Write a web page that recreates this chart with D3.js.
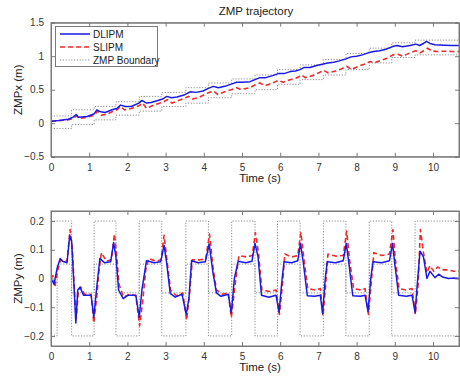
<!DOCTYPE html>
<html><head><meta charset="utf-8">
<script src="https://cdn.jsdelivr.net/npm/d3@7/dist/d3.min.js"></script>
<style>
html,body{margin:0;padding:0;background:#fff;}
svg{display:block;font-family:"Liberation Sans",Arial,sans-serif;}
</style></head>
<body>
<svg id="chart" width="460" height="379"></svg>
<script>
// ---------- DATA ----------
const xTicks = [0,1,2,3,4,5,6,7,8,9,10];
const topYTicks = [-0.5,0,0.5,1,1.5];
const botYTicks = [-0.2,-0.1,0,0.1,0.2];
const seriesNames = ["DLIPM","SLIPM","ZMP Boundary"];

// footstep phase switch times (s)
const phaseTimes = [0,0.16,0.54,1.13,1.70,2.31,2.90,3.53,4.12,4.73,5.34,5.93,6.52,7.13,7.72,8.33,8.92,9.53,10.7];
// ZMP x boundary (upper / lower) per phase
const boundXUpper = [0.11,0.11,0.20,0.25,0.32,0.40,0.46,0.53,0.60,0.66,0.72,0.80,0.87,0.95,1.04,1.12,1.20,1.24,1.24];
const boundXLower = [-0.08,-0.08,-0.02,0.05,0.12,0.18,0.25,0.30,0.38,0.44,0.50,0.58,0.65,0.72,0.80,0.90,0.98,1.02,1.02];
// ZMP y boundary (upper / lower) per phase
const boundYUpper = [0.2,0.2,-0.05,0.2,-0.05,0.2,-0.05,0.2,-0.05,0.2,-0.05,0.2,-0.05,0.2,-0.05,0.2,-0.05,0.2,0.2];
const boundYLower = [-0.2,0.05,-0.2,0.05,-0.2,0.05,-0.2,0.05,-0.2,0.05,-0.2,0.05,-0.2,0.05,-0.2,0.05,-0.2,-0.2,-0.2];

// DLIPM ZMPx
const dlipmXt = [0,0.2,0.45,0.58,0.66,0.72,0.95,1.13,1.2,1.3,1.42,1.6,1.72,1.82,1.95,2.1,2.3,2.38,2.5,2.62,2.8,2.92,3.03,3.15,3.3,3.48,3.58,3.66,3.8,3.98,4.12,4.25,4.38,4.55,4.7,4.86,5.0,5.21,5.34,5.47,5.62,5.8,5.95,6.1,6.26,6.4,6.52,6.62,6.78,6.95,7.1,7.25,7.4,7.55,7.72,7.85,8.0,8.15,8.3,8.45,8.6,8.75,8.92,9.05,9.2,9.4,9.55,9.65,9.75,9.83,9.92,10.05,10.3,10.5,10.7];
const dlipmXv = [0.03,0.04,0.06,0.09,0.13,0.09,0.1,0.14,0.2,0.17,0.16,0.2,0.22,0.27,0.25,0.25,0.3,0.34,0.3,0.31,0.34,0.36,0.4,0.38,0.39,0.42,0.45,0.47,0.46,0.48,0.52,0.55,0.53,0.55,0.58,0.61,0.61,0.62,0.65,0.68,0.68,0.71,0.74,0.74,0.77,0.78,0.8,0.83,0.83,0.86,0.88,0.9,0.91,0.93,0.96,0.99,1.0,1.02,1.05,1.07,1.08,1.1,1.14,1.16,1.14,1.16,1.18,1.16,1.19,1.22,1.19,1.17,1.165,1.16,1.16];
// SLIPM ZMPx
const slipmXt = [0,0.2,0.45,0.58,0.66,0.75,0.95,1.13,1.22,1.32,1.45,1.6,1.72,1.82,1.92,2.1,2.3,2.4,2.5,2.65,2.8,2.95,3.05,3.17,3.3,3.48,3.6,3.7,3.85,4.0,4.14,4.26,4.36,4.55,4.72,4.86,4.97,5.2,5.34,5.47,5.6,5.8,5.95,6.08,6.26,6.45,6.56,6.66,6.85,7.0,7.14,7.25,7.45,7.6,7.74,7.86,8.05,8.2,8.35,8.46,8.65,8.8,8.95,9.08,9.2,9.4,9.55,9.66,9.78,9.86,9.96,10.1,10.3,10.5,10.7];
const slipmXv = [0.03,0.035,0.05,0.07,0.11,0.07,0.09,0.12,0.18,0.12,0.13,0.17,0.2,0.25,0.2,0.22,0.26,0.3,0.22,0.26,0.29,0.32,0.35,0.3,0.33,0.37,0.4,0.36,0.38,0.42,0.46,0.48,0.43,0.47,0.5,0.53,0.5,0.53,0.57,0.6,0.56,0.6,0.64,0.61,0.65,0.68,0.72,0.68,0.71,0.75,0.79,0.75,0.78,0.81,0.85,0.8,0.85,0.88,0.92,0.9,0.94,0.97,1.02,1.03,1.0,1.05,1.08,1.05,1.09,1.12,1.08,1.07,1.075,1.07,1.07];

// DLIPM ZMPy
const dlipmYt = [0,0.08,0.16,0.24,0.3,0.42,0.49,0.54,0.6,0.65,0.7,0.76,0.85,1.05,1.12,1.19,1.28,1.4,1.56,1.64,1.7,1.77,1.89,2.02,2.22,2.31,2.38,2.5,2.7,2.87,2.96,3.03,3.12,3.25,3.43,3.54,3.61,3.68,3.85,4.04,4.14,4.24,4.33,4.45,4.64,4.72,4.8,4.9,5.1,5.26,5.34,5.42,5.51,5.7,5.89,5.97,6.05,6.1,6.3,6.46,6.53,6.6,6.71,6.9,7.05,7.11,7.18,7.23,7.45,7.65,7.73,7.8,7.9,8.1,8.22,8.3,8.37,8.43,8.65,8.86,8.94,9.0,9.1,9.3,9.45,9.53,9.6,9.66,9.75,9.84,9.92,10.05,10.15,10.25,10.4,10.55,10.7];
const dlipmYv = [0,-0.02,0.035,0.07,0.06,0.055,0.15,0.13,-0.02,-0.155,-0.04,-0.03,-0.058,-0.058,-0.135,-0.04,0.07,0.055,0.058,0.125,0.075,-0.04,-0.07,-0.058,-0.058,-0.135,-0.04,0.062,0.055,0.058,0.115,0.052,-0.052,-0.065,-0.055,-0.125,-0.07,0.062,0.055,0.058,0.12,0.02,-0.05,-0.062,-0.055,-0.12,0,0.06,0.055,0.06,0.122,0.075,-0.058,-0.065,-0.058,-0.118,0,0.058,0.055,0.062,0.122,0.06,-0.06,-0.062,-0.058,-0.122,0,0.058,0.055,0.062,0.122,0.05,-0.06,-0.062,-0.058,-0.115,0,0.058,0.055,0.062,0.122,0.05,-0.058,-0.062,-0.058,-0.118,0,0.095,0.075,0,0.025,0.003,0.015,0.005,0,0.002,0];
// SLIPM ZMPy
const slipmYt = [0,0.05,0.1,0.18,0.25,0.32,0.42,0.5,0.56,0.62,0.66,0.72,0.78,0.88,1.05,1.12,1.2,1.25,1.32,1.45,1.58,1.66,1.72,1.78,1.9,2.05,2.22,2.32,2.4,2.48,2.56,2.75,2.88,2.96,3.03,3.13,3.28,3.45,3.55,3.63,3.7,3.9,4.05,4.15,4.24,4.33,4.5,4.64,4.72,4.82,4.92,5.12,5.27,5.35,5.43,5.52,5.72,5.89,5.98,6.06,6.12,6.3,6.46,6.54,6.61,6.72,6.92,7.05,7.12,7.19,7.25,7.45,7.65,7.74,7.81,7.92,8.12,8.22,8.31,8.38,8.45,8.65,8.86,8.95,9.01,9.11,9.3,9.45,9.54,9.61,9.67,9.75,9.84,9.92,10.02,10.12,10.25,10.4,10.55,10.7];
const slipmYv = [0,0.01,-0.03,0.03,0.065,0.062,0.06,0.17,0.1,-0.06,-0.14,-0.04,-0.03,-0.055,-0.055,-0.155,-0.06,0.02,0.09,0.06,0.065,0.155,0.08,-0.02,-0.065,-0.055,-0.06,-0.165,-0.08,0.03,0.07,0.06,0.065,0.15,0.07,-0.04,-0.06,-0.05,-0.145,-0.05,0.065,0.065,0.068,0.155,0.04,-0.04,-0.055,-0.05,-0.135,-0.02,0.08,0.075,0.08,0.16,0.09,-0.04,-0.045,-0.04,-0.125,-0.02,0.085,0.075,0.08,0.16,0.08,-0.035,-0.04,-0.035,-0.13,-0.02,0.085,0.078,0.08,0.165,0.07,-0.035,-0.04,-0.035,-0.125,-0.02,0.09,0.08,0.085,0.17,0.07,-0.035,-0.04,-0.035,-0.125,-0.02,0.17,0.09,0.02,0.045,0.025,0.04,0.03,0.03,0.025,0.025];

// ---------- STYLE / LAYOUT ----------
const W = 460, H = 379;
const xLeft = 51, xRight = 459;
const topPanel = {top: 22.7, bottom: 156.7, yDomain: [-0.5, 1.5]};
const botPanel = {top: 211, bottom: 346, yDomain: [-0.235, 0.235]};
const COL_BLUE = "#1a1ae6", COL_RED = "#ee2a2a", COL_GRAY = "#8c8c8c", COL_AXIS = "#7a7a7a", COL_TEXT = "#333";

const svg = d3.select("#chart");
svg.append("rect").attr("width", W).attr("height", H).attr("fill", "#fff");

const x = d3.scaleLinear().domain([0, 10.68]).range([xLeft, xRight]);

function zip(t, v){ return t.map((d,i)=>[d, v[i]]); }

function panel(cfg, id, yTicks, yLabel, series, bounds){
  const y = d3.scaleLinear().domain(cfg.yDomain).range([cfg.bottom, cfg.top]);
  const g = svg.append("g");
  g.append("clipPath").attr("id", id).append("rect")
    .attr("x", xLeft).attr("y", cfg.top).attr("width", xRight - xLeft).attr("height", cfg.bottom - cfg.top);
  g.append("rect").attr("x", xLeft).attr("y", cfg.top).attr("width", xRight - xLeft).attr("height", cfg.bottom - cfg.top).attr("fill", "#fff");

  const data = g.append("g").attr("clip-path", `url(#${id})`);
  const stepLine = d3.line().x(d=>x(d[0])).y(d=>y(d[1])).curve(d3.curveStepAfter);
  const line = d3.line().x(d=>x(d[0])).y(d=>y(d[1]));
  bounds.forEach(b => {
    data.append("path").attr("d", stepLine(zip(phaseTimes, b)))
      .attr("fill","none").attr("stroke", COL_GRAY).attr("stroke-width", 1).attr("stroke-dasharray", "1.2,1.6");
  });
  data.append("path").attr("d", line(series[1])).attr("fill","none").attr("stroke", COL_RED)
    .attr("stroke-width", 1.6).attr("stroke-dasharray", "5,3").attr("stroke-linejoin","round");
  data.append("path").attr("d", line(series[0])).attr("fill","none").attr("stroke", COL_BLUE)
    .attr("stroke-width", 1.5).attr("stroke-linejoin","round");

  // axes (MATLAB-like box with inward ticks)
  const tick = 4;
  const axB = g.append("g").attr("transform", `translate(0,${cfg.bottom})`)
    .call(d3.axisBottom(x).tickValues(xTicks).tickSize(-tick).tickPadding(7).tickFormat(d3.format("d")));
  const axT = g.append("g").attr("transform", `translate(0,${cfg.top})`)
    .call(d3.axisTop(x).tickValues(xTicks).tickSize(-tick).tickFormat(""));
  const axL = g.append("g").attr("transform", `translate(${xLeft},0)`)
    .call(d3.axisLeft(y).tickValues(yTicks).tickSize(-tick).tickPadding(7).tickFormat(d=>d3.format("")(+d.toFixed(2))));
  const axR = g.append("g").attr("transform", `translate(${xRight},0)`)
    .call(d3.axisRight(y).tickValues(yTicks).tickSize(-tick).tickFormat(""));
  [axB, axT, axL, axR].forEach(a => {
    a.select(".domain").attr("stroke", COL_AXIS).attr("stroke-width", 1);
    a.selectAll(".tick line").attr("stroke", COL_AXIS);
    a.selectAll(".tick text").attr("fill", COL_TEXT).attr("font-size", 10)
      .attr("font-family", '"Liberation Sans",Arial,sans-serif');
  });
  // draw clean box edges
  g.append("rect").attr("x", xLeft).attr("y", cfg.top).attr("width", xRight - xLeft).attr("height", cfg.bottom - cfg.top)
    .attr("fill","none").attr("stroke", COL_AXIS).attr("stroke-width", 1);

  g.append("text").attr("x", (xLeft + 433) / 2 + 18).attr("y", cfg.bottom + 25)
    .attr("text-anchor","middle").attr("font-size", 11.5).attr("fill", "#222").text("Time (s)");
  g.append("text").attr("transform", `translate(22,${(cfg.top + cfg.bottom)/2}) rotate(-90)`)
    .attr("text-anchor","middle").attr("font-size", 11.5).attr("fill", "#222").text(yLabel);
  return y;
}

panel(topPanel, "clipTop", topYTicks, "ZMPx (m)",
  [zip(dlipmXt, dlipmXv), zip(slipmXt, slipmXv)], [boundXUpper, boundXLower]);
panel(botPanel, "clipBot", botYTicks, "ZMPy (m)",
  [zip(dlipmYt, dlipmYv), zip(slipmYt, slipmYv)], [boundYUpper, boundYLower]);

// title
svg.append("text").attr("x", 256).attr("y", 15).attr("text-anchor","middle")
  .attr("font-size", 11.5).attr("fill", "#222").text("ZMP trajectory");

// legend
const lg = svg.append("g");
lg.append("rect").attr("x", 55.5).attr("y", 26.5).attr("width", 102).attr("height", 40)
  .attr("fill", "#fff").attr("stroke", COL_AXIS).attr("stroke-width", 1);
const legendStyles = [
  {c: COL_BLUE, w: 1.5, dash: null},
  {c: COL_RED, w: 1.6, dash: "5,3"},
  {c: COL_GRAY, w: 1, dash: "1.2,1.6"}
];
seriesNames.forEach((name, i) => {
  const yy = 34 + i * 13;
  const s = legendStyles[i];
  const l = lg.append("line").attr("x1", 60).attr("x2", 90).attr("y1", yy).attr("y2", yy)
    .attr("stroke", s.c).attr("stroke-width", s.w);
  if (s.dash) l.attr("stroke-dasharray", s.dash);
  lg.append("text").attr("x", 93).attr("y", yy + 3.5).attr("font-size", 10).attr("fill", "#222").text(name);
});
</script>
</body></html>
